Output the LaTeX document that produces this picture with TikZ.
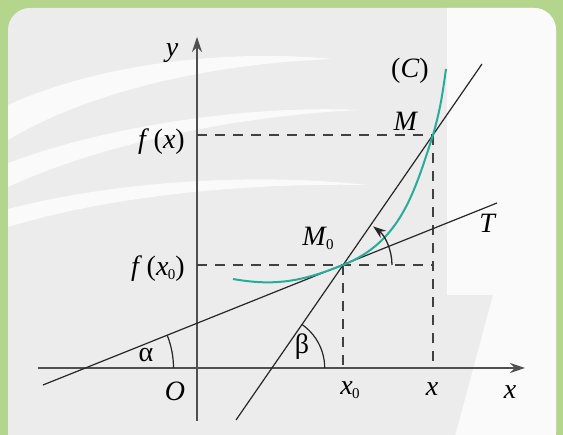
\documentclass[tikz,border=0pt]{standalone}
\usepackage{fontspec}
\setmainfont{Liberation Serif}
\usetikzlibrary{arrows.meta,calc}
\definecolor{framegreen}{RGB}{180,213,140}
\definecolor{paper}{RGB}{236,236,236}
\definecolor{paperlight}{RGB}{250,250,250}
\definecolor{curveteal}{RGB}{40,172,152}
\definecolor{axisgray}{RGB}{80,80,80}
\newcommand{\vx}{\textit{x}}
\newcommand{\subzero}{\raisebox{-4pt}{\fontsize{15}{15}\selectfont 0}}
\newcommand{\vxo}{\textit{x}\kern-0.5pt\subzero}
\begin{document}
\begin{tikzpicture}[x=1pt,y=1pt]
	\tikzstyle{axis} = [draw=axisgray, line width=1.5pt, -{Stealth[length=15pt,width=10pt]}]
	\tikzstyle{line} = [draw=black!85, line width=1.2pt]
	\tikzstyle{guide} = [draw=black!75, line width=1.2pt, dash pattern=on 10pt off 8pt]
	\tikzstyle{graph} = [draw=curveteal, line width=2pt]
	\tikzstyle{label} = [font=\fontsize{28}{32}\selectfont, inner sep=1pt]
	\tikzstyle{swoosh} = [fill=paperlight]
	
	% Frame and paper
	\useasboundingbox (0,0) rectangle (563,435);
	\clip (0,0) rectangle (563,435);
	\fill[framegreen] (0,0) rectangle (563,435);
	\begin{scope}
		\clip[rounded corners=22pt] (8,-20) rectangle (556,427);
		\fill[paper] (0,0) rectangle (563,435);
		% faint watermark
		\fill[swoosh] (447,440) -- (447,140) -- (493,140) -- (450,-20) -- (570,-20) -- (570,440) -- cycle;
		\fill[swoosh] (8,330) .. controls (100,372) and (230,386) .. (333,376) .. controls (230,372) and (100,350) .. (8,295) -- cycle;
		\fill[swoosh] (8,272) .. controls (110,310) and (250,330) .. (360,325) .. controls (250,320) and (110,295) .. (8,248) -- cycle;
		\fill[swoosh] (8,226) .. controls (120,255) and (260,262) .. (367,250) .. controls (260,252) and (120,242) .. (8,208) -- cycle;
	\end{scope}
	
	% Points
	\coordinate (O) at (197,67);
	\coordinate (M0) at (343,170);
	\coordinate (M) at (433,300);
	\coordinate (X0) at (343,67);
	\coordinate (X) at (433,67);
	\coordinate (FX) at (197,300);
	\coordinate (FX0) at (197,170);
	\coordinate (Xa) at (38,67);
	\coordinate (Xb) at (525,67);
	\coordinate (Ya) at (197,14);
	\coordinate (Yb) at (197,398);
	\coordinate (Ta) at (43,50);
	\coordinate (Tb) at (497,232);
	\coordinate (Sa) at (236,15);
	\coordinate (Sb) at (482,371);
	\coordinate (Ca) at (233,156);
	\coordinate (Cb) at (446,366);
	\coordinate (A) at (85.5,67);
	\coordinate (B) at (271.7,67);
	
	% Axes
	\draw[axis] (Xa) -- (Xb);
	\draw[axis] (Ya) -- (Yb);
	
	% Dashed guides
	\draw[guide] (FX) -- (M);
	\draw[guide] (FX0) -- (M0) -- (M0 -| X);
	\draw[guide] (M0) -- (X0);
	\draw[guide] (M) -- (X);
	
	% Tangent and secant
	\draw[line] (Ta) -- (Tb);
	\draw[line] (Sa) -- (Sb);
	
	% Curve (C)
	\draw[graph] (Ca) to[out=-10, in=201.8] (M0) to[out=21.8, in=252] (M) to[out=74, in=262] (Cb);
	
	% Angles
	\draw[line] ($(A)+(88,0)$) arc[start angle=0, end angle=21.8, radius=88];
	\draw[line] ($(B)+(53,0)$) arc[start angle=0, end angle=55.3, radius=53];
	\draw[line, line width=1.3pt, -{Stealth[length=13pt,width=9pt]}] ($(M0)+(49,0)$) arc[start angle=0, end angle=52, radius=49];
	
	% Labels
	\node[label] (ylab) at (172,382) {\textit{y}};
	\node[label] (xlab) at (510,43) {\vx};
	\node[label] (Olab) at (175,44) {\textit{O}};
	\node[label, anchor=east] (fxlab) at (186,293) {\textit{f}\,(\vx)};
	\node[label, anchor=east] (fx0lab) at (186,166) {\textit{f}\,(\vxo)};
	\node[label] (x0lab) at (350,45) {\vxo};
	\node[label] (xxlab) at (432,46) {\vx};
	\node[label] (M0lab) at (318,197) {\textit{M}\kern-1pt\subzero};
	\node[label] (Mlab) at (406,314) {\textit{M}};
	\node[label] (Clab) at (410,364) {(\textit{C})};
	\node[label] (Tlab) at (488,212) {\textit{T}};
	\node[label] (alab) at (146,80) {α};
	\node[label] (blab) at (302,88) {β};
	
\end{tikzpicture}
\end{document}
